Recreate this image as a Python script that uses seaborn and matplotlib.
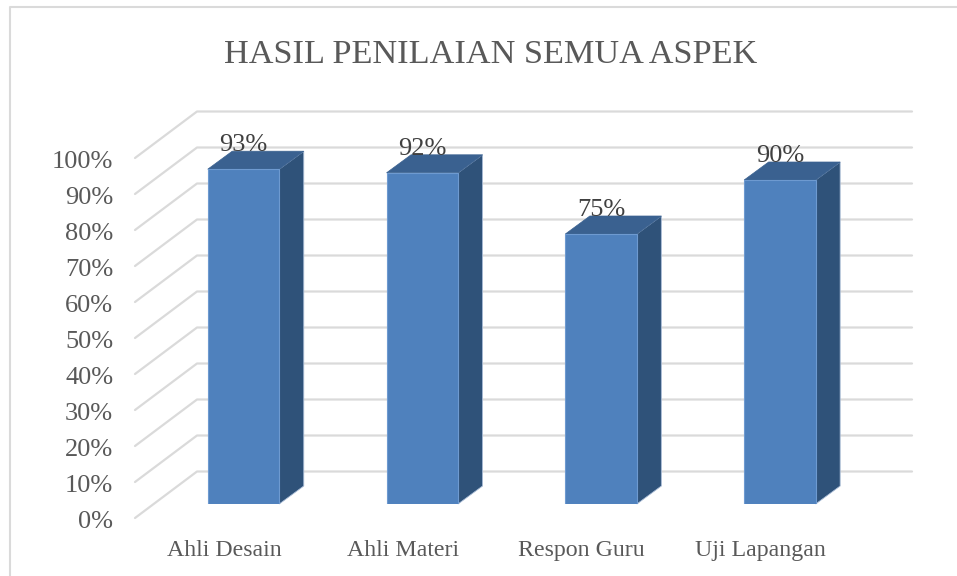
import matplotlib
matplotlib.use("Agg")
import matplotlib.pyplot as plt
import seaborn as sns
from matplotlib.lines import Line2D
from matplotlib.patches import Polygon
from matplotlib.transforms import Affine2D, IdentityTransform

categories = ["Ahli Desain", "Ahli Materi", "Respon Guru", "Uji Lapangan"]
values = [93, 92, 75, 90]
y_ticks = list(range(0, 101, 10))
y_tick_labels = [f"{v}%" for v in y_ticks]
title = "HASIL PENILAIAN SEMUA ASPEK"

W, H = 957, 576
FONT = "Liberation Serif"
TEXT = "#595959"
GRID = "#DADADA"

sns.set_theme(style="white")
plt.rcParams["font.family"] = [FONT, "DejaVu Serif"]

fig = plt.figure(figsize=(W / 100, H / 100), dpi=100, facecolor="white")
# axes maps category/value space onto the plane of the bars
left, right, bottom, top = 154.1, 869.3, 504, 144
ax = fig.add_axes([left / W, 1 - bottom / H, (right - left) / W, (bottom - top) / H])
sns.barplot(x=categories, y=values, color="#4F81BD", saturation=1, width=0.4, ax=ax,
            edgecolor="#6E9AD0", linewidth=0.8, zorder=3)
ax.set_xlim(-0.5, 3.5)
ax.set_ylim(0, 100)
ax.patch.set_visible(False)
sns.despine(ax=ax, left=True, bottom=True)

# wall grid: diagonal floor edge, then the back wall line
to_px = ax.transData
unit = (right - left) / 4
xf, xb, xr = (135 - 243.5) / unit, (197 - 243.5) / unit, (912 - 243.5) / unit
for v in y_ticks:
    y = v
    (x0, y0) = to_px.transform((xf, y))
    (x1, y1) = to_px.transform((xb, y))
    (x2, y2) = to_px.transform((xr, y))
    fig.add_artist(Line2D([x0, x1, x2], [y0 - 14, y1 + 32.5, y2 + 32.5], transform=IdentityTransform(),
                          color=GRID, lw=1.6, zorder=0.5))
fig.patch.set_zorder(0)
ax.set_zorder(2)

# depth faces of the bars
dx, dy = 24.5, 18
for bar, v in zip(ax.patches, values):
    x0 = bar.get_x()
    x1 = x0 + bar.get_width()
    a = to_px.transform((x0, v))
    b = to_px.transform((x1, v))
    c = to_px.transform((x1, 0))
    ax.add_patch(Polygon([b, c, c + (dx, dy), b + (dx, dy)], closed=True, transform=IdentityTransform(),
                         facecolor="#2F5279", edgecolor="#A9BCD6", lw=0.6, zorder=2.9, clip_on=False))
    ax.add_patch(Polygon([a, b, b + (dx, dy), a + (dx, dy)], closed=True, transform=IdentityTransform(),
                         facecolor="#3A6190", edgecolor="#3A6190", lw=0.5, zorder=2.95, clip_on=False))
    ax.annotate(f"{v}%", xy=((x0 + x1) / 2, v), xytext=(0, 24), textcoords="offset pixels",
                ha="center", va="center", fontsize=19, color="#404040", zorder=5, annotation_clip=False)

# tick labels
ax.set_yticks(y_ticks)
ax.set_yticklabels(y_tick_labels)
ax.tick_params(axis="y", length=0, pad=29.5, labelsize=19, labelcolor=TEXT)
ax.tick_params(axis="x", length=0, pad=26, labelsize=17.2, labelcolor=TEXT)
for t in ax.get_yticklabels():
    t.set_transform(t.get_transform() + Affine2D().translate(0, -15))
for t in ax.get_xticklabels():
    t.set_transform(t.get_transform() + Affine2D().translate(-19.5, 0))
ax.set_xlabel("")
ax.set_ylabel("")

fig.text(491 / W, 1 - 55 / H, title, ha="center", va="center", fontsize=24.7, color=TEXT)

# chart frame
fig.add_artist(Line2D([10 / W, 10 / W, 1], [0, 1 - 6.5 / H, 1 - 6.5 / H], transform=fig.transFigure,
                      color=GRID, lw=1.5))

fig.savefig("out.png", dpi=100, facecolor="white")
